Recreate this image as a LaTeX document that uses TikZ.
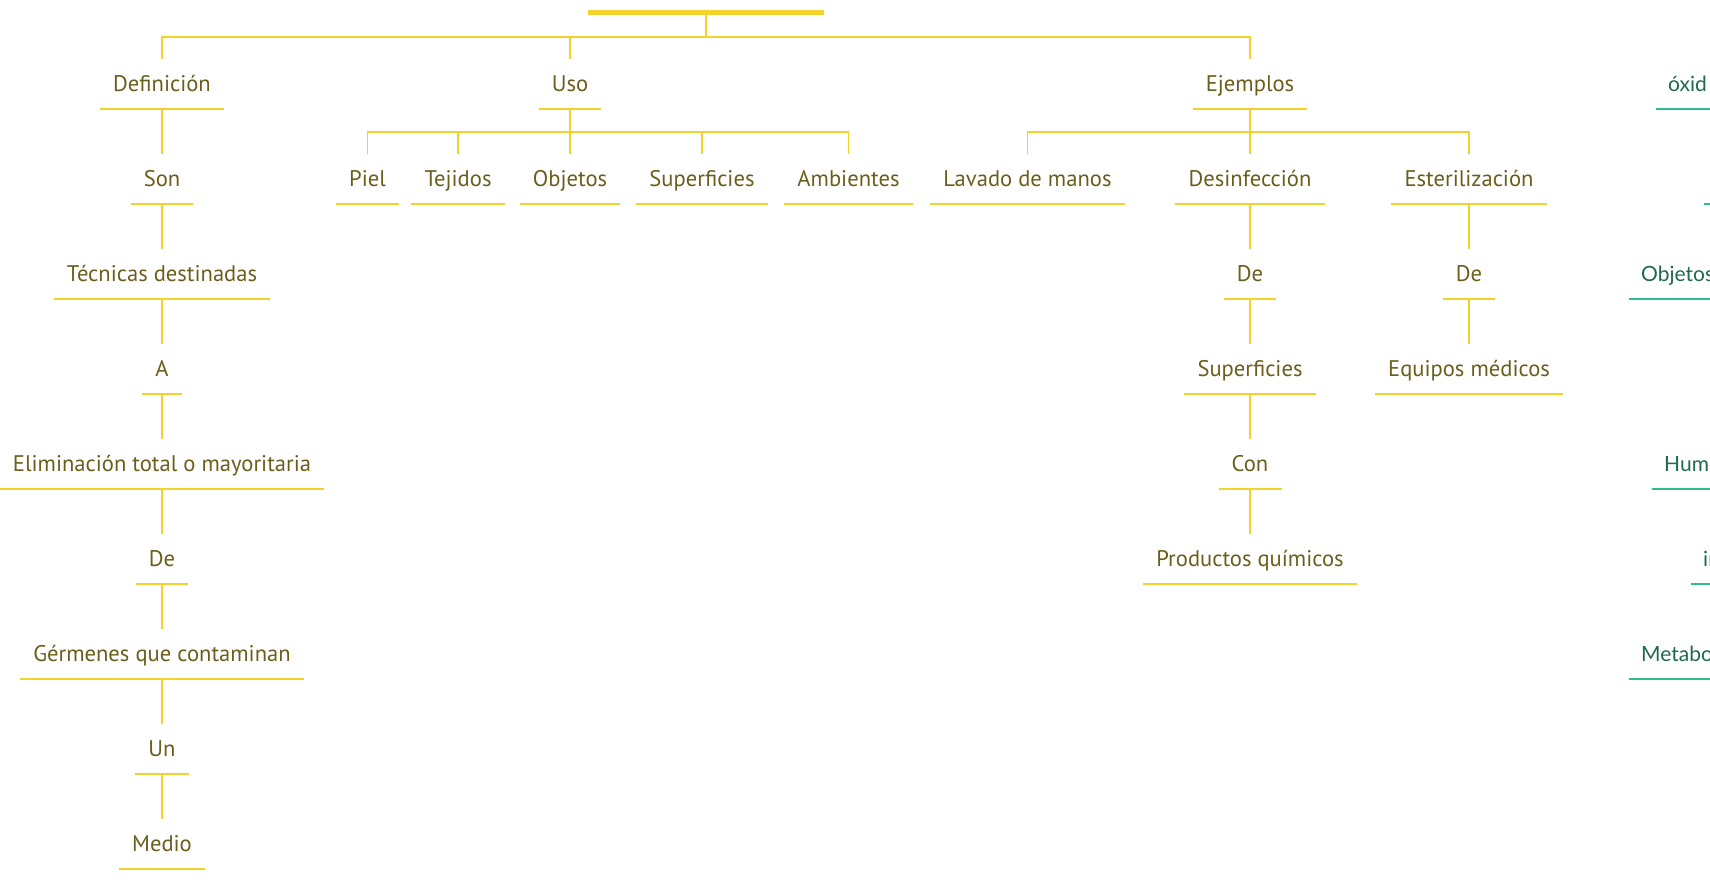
\documentclass[tikz,border=0pt]{standalone}
\usepackage{fontspec}
\setmainfont{PT Sans}
\newfontfamily\greenfont{Lato}
\definecolor{ytext}{HTML}{6B5E1C}
\definecolor{yline}{HTML}{F4D22C}
\definecolor{gtext}{HTML}{1E6A4B}
\definecolor{gline}{HTML}{2DBE8B}
\begin{document}
\begin{tikzpicture}[x=1pt,y=-1pt,
  uline/.style={draw=yline, line width=1.8pt},
  gul/.style={draw=gline, line width=1.8pt},
  conn/.style={draw=yline, line width=1.3pt},
  lbl/.style={anchor=south, inner xsep=13pt, inner ysep=17pt, text height=16pt, text depth=0pt,
    text=ytext, font=\fontsize{22.6}{26}\selectfont,
    append after command={(\tikzlastnode.south west) edge[uline] (\tikzlastnode.south east)}},
  glbl/.style={anchor=south west, inner xsep=12pt, inner ysep=17pt, text height=16pt, text depth=0pt,
    text=gtext, font=\greenfont\fontsize{21}{25}\selectfont,
    append after command={(\tikzlastnode.south west) edge[gul] ++(120,0)}},
  rootbox/.style={minimum width=236pt, minimum height=0pt, inner sep=0pt, anchor=center}
]
\useasboundingbox (0,0) rectangle (1710,886);
\clip (0,0) rectangle (1710,886);
% root
\node[rootbox] (root) at (706,12.5) {};
\draw[draw=yline, line width=5pt] (root.west) -- (root.east);
% level 0
\node[lbl] (def) at (162,109) {Definición};
\node[lbl] (uso) at (570,109) {Uso};
\node[lbl] (ej) at (1250,109) {Ejemplos};
% definicion chain
\node[lbl] (son) at (162,204) {Son};
\node[lbl] (tec) at (162,299) {Técnicas destinadas};
\node[lbl] (a) at (162,394) {A};
\node[lbl] (elim) at (162,489) {Eliminación total o mayoritaria};
\node[lbl] (de1) at (162,584) {De};
\node[lbl] (germ) at (162,679) {Gérmenes que contaminan};
\node[lbl] (un) at (162,774) {Un};
\node[lbl] (medio) at (162,869) {Medio};
% uso children
\node[lbl] (piel) at (367.5,204) {Piel};
\node[lbl] (tej) at (458,204) {Tejidos};
\node[lbl] (obj) at (570,204) {Objetos};
\node[lbl] (sup) at (702,204) {Superficies};
\node[lbl] (amb) at (848.5,204) {Ambientes};
% ejemplos children
\node[lbl] (lav) at (1027.5,204) {Lavado de manos};
\node[lbl] (des) at (1250,204) {Desinfección};
\node[lbl] (est) at (1469,204) {Esterilización};
\node[lbl] (de2) at (1250,299) {De};
\node[lbl] (sup2) at (1250,394) {Superficies};
\node[lbl] (con) at (1250,489) {Con};
\node[lbl] (prod) at (1250,584) {Productos químicos};
\node[lbl] (de3) at (1469,299) {De};
\node[lbl] (equ) at (1469,394) {Equipos médicos};
% green (cut off) tree
\node[glbl] (g1) at (1656,109) {óxid};
\node[glbl] (g2) at (1704,204) {};
\node[glbl] (g3) at (1629,299) {Objetos};
\node[glbl] (g4) at (1652,489) {Hume};
\node[glbl] (g5) at (1691,584) {in};
\node[glbl] (g6) at (1629,679) {Metabo};
% connectors
\foreach \c in {def,uso,ej} \draw[conn] (root.center) -- ++(0,24.5) -| (\c.north);
\draw[conn] (def.south) -- (son.north);
\draw[conn] (son.south) -- (tec.north);
\draw[conn] (tec.south) -- (a.north);
\draw[conn] (a.south) -- (elim.north);
\draw[conn] (elim.south) -- (de1.north);
\draw[conn] (de1.south) -- (germ.north);
\draw[conn] (germ.south) -- (un.north);
\draw[conn] (un.south) -- (medio.north);
\foreach \c in {piel,tej,obj,sup,amb} \draw[conn] (uso.south) -- ++(0,23) -| (\c.north);
\foreach \c in {lav,des,est} \draw[conn] (ej.south) -- ++(0,23) -| (\c.north);
\draw[conn] (des.south) -- (de2.north);
\draw[conn] (de2.south) -- (sup2.north);
\draw[conn] (sup2.south) -- (con.north);
\draw[conn] (con.south) -- (prod.north);
\draw[conn] (est.south) -- (de3.north);
\draw[conn] (de3.south) -- (equ.north);
\end{tikzpicture}
\end{document}
